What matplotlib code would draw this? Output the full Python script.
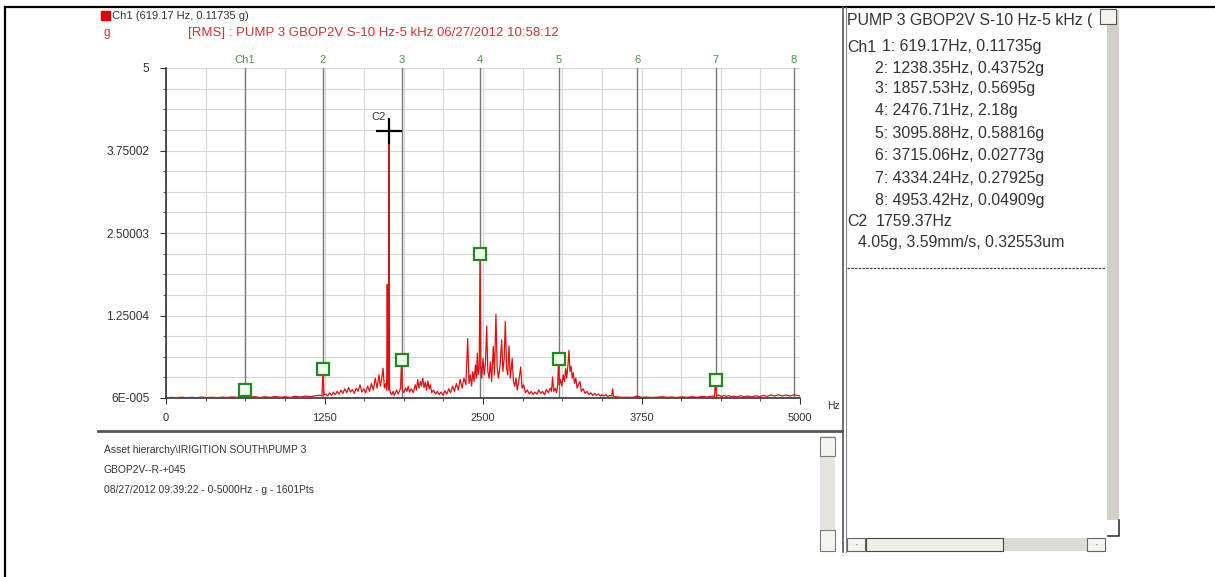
import matplotlib
matplotlib.use("Agg")
import matplotlib.pyplot as plt
from matplotlib.patches import Rectangle
from matplotlib.lines import Line2D
from matplotlib.ticker import MultipleLocator

plt.rcParams["font.family"] = ["Liberation Sans", "DejaVu Sans"]

W, H = 1215, 577

# --- spectrum (Hz, g RMS) ---
freq = [0, 40, 80, 120, 160, 200, 240, 280, 320, 360, 400, 440, 480, 520, 560, 600,
        612, 619.17, 625,
        660, 700, 740, 780, 820, 860, 900, 940, 980, 1020, 1060, 1100, 1140, 1180, 1215, 1230,
        1238.35, 1245,
        1260, 1275, 1290, 1305, 1320, 1335, 1350, 1365, 1380, 1395, 1410, 1425, 1440, 1455,
        1470, 1485, 1500, 1515, 1530, 1545, 1560, 1575, 1590, 1605, 1620, 1635, 1650, 1665,
        1680, 1690, 1700, 1712, 1722, 1732, 1740, 1745, 1750, 1756, 1759.37, 1763, 1770, 1780,
        1790, 1800, 1810, 1820, 1830, 1840, 1850, 1857.53, 1864, 1875, 1890, 1900, 1910, 1920,
        1935, 1950, 1965, 1975, 1985, 1995, 2005, 2015, 2025, 2035, 2045, 2055, 2065, 2075,
        2085, 2095, 2110, 2125, 2140, 2155, 2170, 2185, 2200, 2215, 2230, 2245, 2260, 2275,
        2290, 2305, 2320, 2335, 2350, 2365, 2379, 2390, 2400, 2410, 2420, 2430, 2440, 2448,
        2455, 2462, 2470, 2476.71, 2483, 2490, 2500, 2510, 2520, 2529, 2538, 2548, 2558, 2568,
        2581, 2590, 2602, 2612, 2622, 2635, 2647, 2657, 2667, 2676, 2686, 2695, 2705, 2715,
        2730, 2740, 2750, 2760, 2770, 2782, 2797, 2808, 2820, 2835, 2850, 2865, 2880, 2895,
        2910, 2925, 2940, 2955, 2970, 2985, 3000, 3015, 3030, 3040, 3049, 3058, 3070, 3080,
        3089, 3095.88, 3102, 3112, 3122, 3132, 3142, 3152, 3160, 3170, 3178, 3186, 3195, 3204,
        3212, 3222, 3232, 3242, 3252, 3265, 3275, 3290, 3305, 3320, 3335, 3350, 3365, 3380,
        3395, 3410, 3425, 3440, 3455, 3470, 3485, 3500, 3515, 3522, 3530, 3560, 3600, 3640,
        3680, 3715.06, 3750, 3790, 3830, 3870, 3910, 3950, 3990, 4030, 4070, 4110, 4150, 4190,
        4230, 4270, 4310, 4325, 4334.24, 4342, 4360, 4380, 4400, 4420, 4440, 4460, 4480, 4500,
        4530, 4560, 4590, 4620, 4650, 4680, 4710, 4740, 4770, 4800, 4830, 4860, 4890, 4920,
        4953.42, 4975, 5000]
amp = [0.0, 0.01, 0.004, 0.012, 0.006, 0.01, 0.005, 0.014, 0.007, 0.011, 0.005, 0.013, 0.008, 0.016, 0.009, 0.02,
       0.02, 0.117, 0.025,
       0.012, 0.02, 0.008, 0.018, 0.01, 0.022, 0.012, 0.02, 0.009, 0.025, 0.014, 0.03, 0.02, 0.035, 0.04, 0.03,
       0.4375, 0.05,
       0.06, 0.03, 0.08, 0.04, 0.09, 0.05, 0.1, 0.06, 0.12, 0.07, 0.14, 0.08, 0.16, 0.09,
       0.13, 0.07, 0.15, 0.1, 0.2, 0.09, 0.14, 0.08, 0.18, 0.1, 0.22, 0.12, 0.3, 0.15,
       0.35, 0.18, 0.27, 0.45, 0.15, 0.22, 0.12, 1.72, 0.2, 0.12, 4.05, 0.15, 0.08, 0.05,
       0.1, 0.04, 0.08, 0.12, 0.06, 0.1, 0.15, 0.5695, 0.12, 0.08, 0.15, 0.1, 0.18, 0.09,
       0.14, 0.08, 0.2, 0.12, 0.28, 0.15, 0.25, 0.18, 0.3, 0.16, 0.24, 0.12, 0.26, 0.14,
       0.2, 0.08, 0.12, 0.06, 0.1, 0.05, 0.09, 0.04, 0.11, 0.06, 0.14, 0.08, 0.18, 0.1,
       0.22, 0.12, 0.28, 0.15, 0.3, 0.2, 0.9, 0.22, 0.35, 0.18, 0.4, 0.25, 0.5, 0.3,
       0.68, 0.35, 0.45, 2.18, 0.5, 0.3, 0.6, 0.35, 0.55, 1.09, 0.4, 0.3, 0.55, 0.25,
       0.78, 0.35, 1.27, 0.45, 0.3, 0.5, 0.88, 0.4, 0.6, 1.16, 0.45, 0.35, 0.79, 0.3,
       0.6, 0.25, 0.18, 0.3, 0.12, 0.25, 0.47, 0.15, 0.2, 0.08, 0.12, 0.06, 0.1, 0.05,
       0.09, 0.06, 0.12, 0.07, 0.1, 0.05, 0.13, 0.08, 0.15, 0.1, 0.32, 0.1, 0.15, 0.08,
       0.2, 0.588, 0.2, 0.28, 0.18, 0.35, 0.25, 0.45, 0.3, 0.5, 0.72, 0.4, 0.48, 0.3,
       0.38, 0.22, 0.3, 0.15, 0.2, 0.25, 0.1, 0.14, 0.07, 0.1, 0.05, 0.08, 0.04, 0.07,
       0.04, 0.06, 0.03, 0.05, 0.03, 0.05, 0.02, 0.04, 0.03, 0.14, 0.02, 0.015, 0.01, 0.012,
       0.008, 0.0277, 0.01, 0.014, 0.007, 0.012, 0.02, 0.01, 0.015, 0.008, 0.018, 0.01, 0.02, 0.012,
       0.025, 0.015, 0.03, 0.02, 0.279, 0.03, 0.045, 0.02, 0.04, 0.025, 0.035, 0.02, 0.03, 0.015,
       0.035, 0.02, 0.03, 0.015, 0.035, 0.02, 0.04, 0.025, 0.045, 0.03, 0.05, 0.03, 0.045, 0.03,
       0.049, 0.04, 0.03]

# harmonic cursor (1x = 619.17 Hz)
harm_labels = ["Ch1", "2", "3", "4", "5", "6", "7", "8"]
harm_freq = [619.17, 1238.35, 1857.53, 2476.71, 3095.88, 3715.06, 4334.24, 4953.42]
harm_amp = [0.11735, 0.43752, 0.5695, 2.18, 0.58816, 0.02773, 0.27925, 0.04909]
marked = [0, 1, 2, 3, 4, 6]

c2_freq, c2_amp = 1759.37, 4.05

xticks = [0, 1250, 2500, 3750, 5000]
yticks = [0, 1.25, 2.5, 3.75, 5]
ytick_labels = ["6E-005", "1.25004", "2.50003", "3.75002", "5"]

legend_text = "Ch1 (619.17 Hz, 0.11735 g)"
title_text = "[RMS] : PUMP 3 GBOP2V S-10 Hz-5 kHz 06/27/2012 10:58:12"

info_lines = ["Asset hierarchy\\IRIGITION SOUTH\\PUMP 3",
              "GBOP2V--R-+045",
              "08/27/2012 09:39:22 - 0-5000Hz - g - 1601Pts"]

# right-hand cursor readout panel: (indent px, text)
panel_lines = [(847, "PUMP 3 GBOP2V S-10 Hz-5 kHz ("),
               (847, "Ch1"), (875, "2: 1238.35Hz, 0.43752g"), (875, "3: 1857.53Hz, 0.5695g"),
               (875, "4: 2476.71Hz, 2.18g"), (875, "5: 3095.88Hz, 0.58816g"),
               (875, "6: 3715.06Hz, 0.02773g"), (875, "7: 4334.24Hz, 0.27925g"),
               (875, "8: 4953.42Hz, 0.04909g"), (847, "C2"),
               (858, "4.05g, 3.59mm/s, 0.32553um")]
panel_y = [21, 47, 68, 89, 111, 133, 156, 179, 201, 222, 243]
panel_fs = 11.4


def fx(x):
    return x / W


def fy(y):
    return 1 - y / H


fig = plt.figure(figsize=(W / 100, H / 100), dpi=100)
fig.patch.set_facecolor("white")

# --- spectrum axes ---
ax = fig.add_axes([fx(166), fy(398), fx(800) - fx(166), fy(68) - fy(398)])
ax.set_xlim(0, 5000)
ax.set_ylim(0, 5)
ax.xaxis.set_minor_locator(MultipleLocator(312.5))
ax.yaxis.set_minor_locator(MultipleLocator(0.3125))
ax.grid(True, which="both", color="#d6d6d6", lw=0.8)
ax.set_axisbelow(True)
for s in ["top", "right"]:
    ax.spines[s].set_visible(False)
for s in ["left", "bottom"]:
    ax.spines[s].set_color("#333333")
    ax.spines[s].set_linewidth(1.2)

ax.set_xticks(xticks)
ax.set_xticklabels([str(t) for t in xticks])
ax.set_yticks(yticks)
ax.set_yticklabels(ytick_labels)
ax.tick_params(which="major", length=4, color="#333333", labelcolor="#333333")
ax.tick_params(axis="x", labelsize=8, pad=7)
ax.tick_params(axis="y", labelsize=8.6, pad=8)
ax.tick_params(which="minor", length=2, color="#333333")

# harmonic lines
for f in harm_freq:
    ax.axvline(f, color="#737c73", lw=1.0, zorder=1)
for f, lab in zip(harm_freq, harm_labels):
    ax.text(f, 5.05, lab, color="#3f9a3f", fontsize=8, ha="center", va="bottom", clip_on=False)

ax.plot(freq, amp, color="#dd1111", lw=0.9, zorder=3)

ax.plot([harm_freq[i] for i in marked], [harm_amp[i] for i in marked], ls="none",
        marker="s", ms=8, mfc="#f4fff0", mec="#1f8a1f", mew=1.6, zorder=4)

ax.plot([c2_freq], [c2_amp], marker="+", ms=19, mew=1.6, color="black", zorder=5)
ax.text(c2_freq - 25, c2_amp + 0.2, "C2", fontsize=8, ha="right", va="center", color="#333333")

ax.text(5000 + 210, -0.12, "Hz", fontsize=7.5, color="#333333", ha="left", va="center", clip_on=False)

# --- legend / title above plot ---
fig.add_artist(Rectangle((fx(101), fy(20)), fx(9), 9 / H, color="#e00000"))
fig.text(fx(112), fy(16), legend_text, fontsize=8, color="#333333", va="center")
fig.text(fx(103), fy(33), "g", fontsize=8.5, color="#cc3333", va="center")
fig.text(fx(188), fy(33), title_text, fontsize=9.5, color="#cc3333", va="center")

# --- frame lines ---
fig.add_artist(Line2D([fx(5), fx(1215)], [fy(7), fy(7)], color="black", lw=1.6))
fig.add_artist(Line2D([fx(5), fx(5)], [fy(7), fy(577)], color="black", lw=1.6))

# bottom info panel
fig.add_artist(Line2D([fx(98), fx(842)], [fy(431), fy(431)], color="#555555", lw=2))
for i, line in enumerate(info_lines):
    fig.text(fx(104), fy(450 + 20 * i), line, fontsize=7.4, color="#333333", va="center")
fig.add_artist(Rectangle((fx(820), fy(552)), fx(15), 116 / H, facecolor="#e6e4dc", edgecolor="none"))
for y0, y1 in [(437, 456), (530, 551)]:
    fig.add_artist(Rectangle((fx(820), fy(y1)), fx(15), (y1 - y0) / H, facecolor="#f4f3ee",
                             edgecolor="#7a7a7a", lw=0.8))

# right readout panel
fig.add_artist(Line2D([fx(843), fx(843)], [fy(7), fy(552)], color="#555555", lw=1.2))
fig.add_artist(Line2D([fx(846), fx(846)], [fy(7), fy(552)], color="#888888", lw=0.8))
fig.add_artist(Rectangle((fx(1107), fy(520)), fx(12), 510 / H, facecolor="#d4d0c8", edgecolor="none"))
fig.add_artist(Rectangle((fx(1100), fy(24)), fx(16), 15 / H, facecolor="#f4f3ee",
                         edgecolor="#555555", lw=0.8))
fig.add_artist(Line2D([fx(1108), fx(1119), fx(1119)], [fy(536), fy(536), fy(520)], color="#333333", lw=1.2))
fig.add_artist(Rectangle((fx(847), fy(551)), fx(1105) - fx(847), 13 / H, facecolor="#dcdad2", edgecolor="none"))
fig.add_artist(Rectangle((fx(866), fy(551)), fx(137), 13 / H, facecolor="#f0eee4", edgecolor="#444444", lw=0.8))
for x0 in [847, 1087]:
    fig.add_artist(Rectangle((fx(x0), fy(551)), fx(18), 13 / H, facecolor="#f4f3ee",
                             edgecolor="#666666", lw=0.8))
fig.text(fx(856), fy(545), "\u00b7", fontsize=8, ha="center", va="center", color="#333333")
fig.text(fx(1096), fy(545), "\u00b7", fontsize=8, ha="center", va="center", color="#333333")

for (x0, txt), y0 in zip(panel_lines, panel_y):
    fig.text(fx(x0), fy(y0), txt, fontsize=panel_fs, color="#333333", va="center")
fig.text(fx(882), fy(panel_y[1]), "1: 619.17Hz, 0.11735g", fontsize=panel_fs, color="#333333", va="center")
fig.text(fx(876), fy(panel_y[9]), "1759.37Hz", fontsize=panel_fs, color="#333333", va="center")
fig.add_artist(Line2D([fx(847), fx(1105)], [fy(268), fy(268)], color="#444444", lw=0.9, ls=(0, (2, 1))))

fig.savefig("out.png", dpi=100, facecolor="white")
